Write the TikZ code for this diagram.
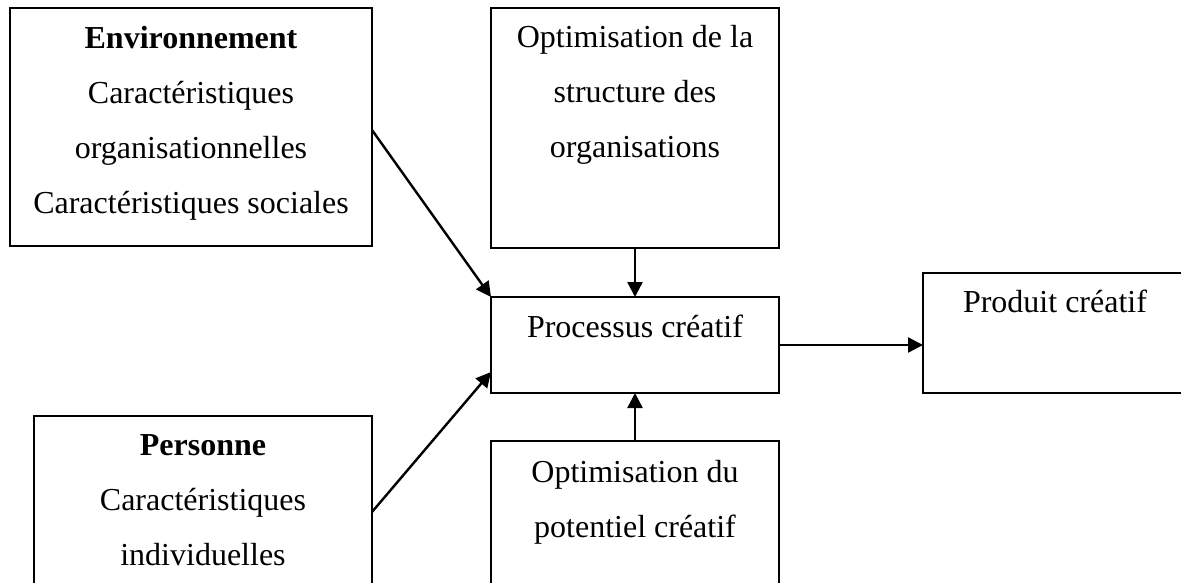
\documentclass[tikz,border=0pt]{standalone}
\usepackage{fontspec}
\setmainfont{Liberation Serif}
\usetikzlibrary{arrows.meta,calc}
\tikzset{
  box/.style={draw, line width=2.4pt, rectangle, anchor=north west, inner sep=0pt, outer sep=0pt},
  lbl/.style={anchor=north, inner sep=0pt, outer sep=0pt, align=center, font=\fontsize{32}{55}\selectfont},
  arr/.style={line width=2.4pt, -{Triangle[length=15pt,width=15pt]}}
}
\newcommand{\fs}{\rule{0pt}{30pt}}
\begin{document}
\begin{tikzpicture}[x=1pt,y=-1pt]
\clip (0,0) rectangle (1181,582);
\fill[white] (0,0) rectangle (1181,582);
% boxes
\node[box, minimum width=362pt, minimum height=238pt] (env) at (10,8) {};
\node[box, minimum width=288pt, minimum height=240pt] (opts) at (491,8) {};
\node[box, minimum width=288pt, minimum height=96pt] (proc) at (491,297) {};
\node[box, minimum width=264pt, minimum height=120pt] (prod) at (923,273) {};
\node[box, minimum width=338pt, minimum height=200pt] (pers) at (34,416) {};
\node[box, minimum width=288pt, minimum height=200pt] (optp) at (491,441) {};
% texts
\node[lbl] (envt) at ($(env.north)+(0,10)$) {\fs\textbf{Environnement}\\Caractéristiques\\organisationnelles\\Caractéristiques sociales};
\node[lbl] (optst) at ($(opts.north)+(0,9)$) {\fs Optimisation de la\\structure des\\organisations};
\node[lbl] (proct) at ($(proc.north)+(0,10)$) {\fs Processus créatif};
\node[lbl] (prodt) at ($(prod.north)+(0,9)$) {\fs Produit créatif};
\node[lbl] (perst) at ($(pers.north)+(0,9)$) {\fs\textbf{Personne}\\Caractéristiques\\individuelles};
\node[lbl] (optpt) at ($(optp.north)+(0,11)$) {\fs Optimisation du\\potentiel créatif};
% arrows
\draw[arr] ($(env.east)+(0,3)$) -- (proc.north west);
\draw[arr] ($(pers.east)+(0,-4)$) -- ($(proc.west)+(0,27)$);
\draw[arr] (opts.south) -- (proc.north);
\draw[arr] (optp.north) -- (proc.south);
\draw[arr] (proc.east) -- (proc.east -| prod.west);
\end{tikzpicture}
\end{document}
